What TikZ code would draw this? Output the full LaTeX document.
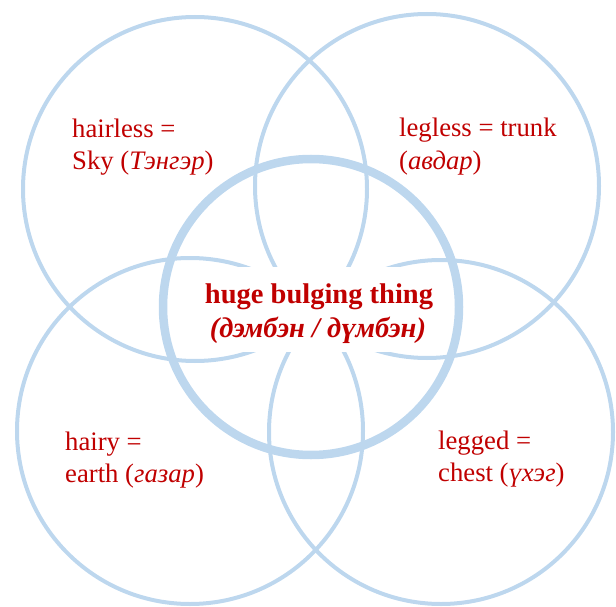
\documentclass[tikz,border=0pt]{standalone}
\usepackage{fontspec}
\setmainfont{Liberation Serif}
\definecolor{ringblue}{HTML}{BDD7EE}
\definecolor{txtred}{HTML}{C00000}
\begin{document}
\begin{tikzpicture}[x=1pt,y=-1pt,
  thinring/.style={draw=ringblue, line width=4pt},
  bigring/.style={draw=ringblue, line width=8.5pt},
  lbl/.style={text=txtred, anchor=base west, inner sep=0pt, font=\fontsize{26.7}{32}\selectfont},
  ctr/.style={text=txtred, anchor=base, inner sep=0pt, font=\fontsize{28.5}{34}\selectfont\bfseries}]
\useasboundingbox (0,0) rectangle (616,607);
\draw[thinring] (195,189) circle[radius=172pt];
\draw[thinring] (427,186) circle[radius=172pt];
\draw[thinring] (190,431) circle[radius=173pt];
\draw[thinring] (441,432) circle[radius=172pt];
\fill[white] (162,267) rectangle (458,352);
\draw[bigring] (311,307) circle[radius=148pt];
\node[lbl] (hl1) at (72,138) {hairless =};
\node[lbl] (hl2) at (72,170) {Sky (\textit{Тэнгэр})};
\node[lbl] (lg1) at (399,137) {legless = trunk};
\node[lbl] (lg2) at (399,169) {(\textit{авдар})};
\node[lbl] (hr1) at (65,450) {hairy =};
\node[lbl] (hr2) at (65,482) {earth (\textit{газар})};
\node[lbl] (ld1) at (438,449) {legged =};
\node[lbl] (ld2) at (438,481) {chest (\textit{үхэг})};
\node[ctr] (c1) at (319,303) {huge bulging thing};
\node[ctr] (c2) at (318,337) {\itshape (дэмбэн / дүмбэн)};
\end{tikzpicture}
\end{document}
